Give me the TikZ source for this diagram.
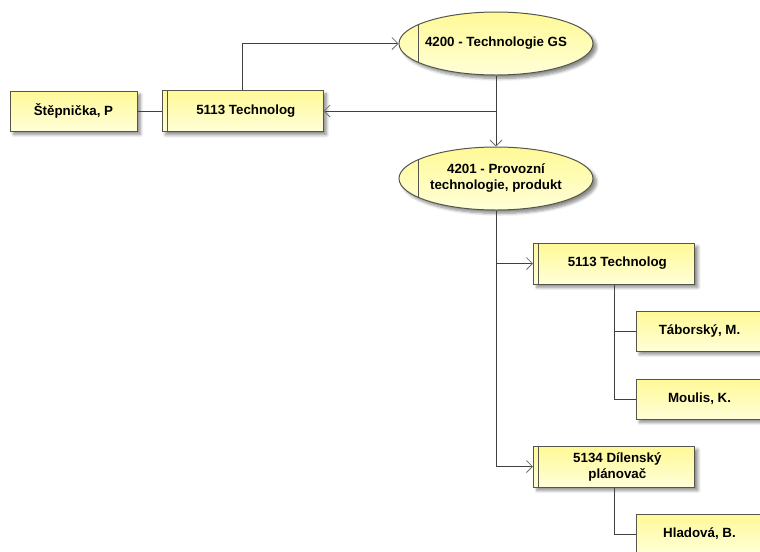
\documentclass[tikz,border=0pt]{standalone}
\usepackage{fontspec}
\setmainfont{Liberation Sans}
\usetikzlibrary{arrows.meta,shapes.geometric,shadows.blur}
\definecolor{boxtop}{HTML}{FFF996}
\definecolor{boxbot}{HTML}{FFFFD8}
\definecolor{boxedge}{HTML}{55554C}
\definecolor{linkc}{HTML}{404040}
\definecolor{tipc}{HTML}{707070}
\begin{document}
\begin{tikzpicture}[x=0.75pt,y=-0.75pt,
  font=\fontsize{10}{12}\selectfont\bfseries,
  unit/.style={draw=boxedge,line width=0.75pt,top color=boxtop,bottom color=boxbot,
    blur shadow={shadow xshift=2.6pt,shadow yshift=-2.6pt,shadow blur steps=6,shadow opacity=45},
    align=center,inner sep=0pt},
  person/.style={unit,rectangle,minimum width=95.25pt,minimum height=30pt},
  post/.style={unit,rectangle,minimum width=120.75pt,minimum height=30.75pt,
    path picture={\draw[boxedge,line width=0.75pt]
      ([xshift=3.75pt]path picture bounding box.north west) --
      ([xshift=3.75pt]path picture bounding box.south west);}},
  dept/.style={unit,ellipse,minimum width=145.5pt,minimum height=47.25pt,
    label={[align=center]center:#1},
    path picture={\draw[boxedge,line width=0.75pt]
      ([xshift=14.25pt]path picture bounding box.north west) --
      ([xshift=14.25pt]path picture bounding box.south west);}},
  link/.style={draw=linkc,line width=0.75pt},
  tolink/.style={link,-{Straight Barb[length=4.5pt,width=9pt,line width=0.6pt,color=tipc]}}]
\useasboundingbox (0,0) rectangle (760,551);

% departments (text set as a centred label so the ellipse keeps its size)
\node[dept={4200 - Technologie GS}] (e1) at (496,43.5) {};
\node[dept={4201 - Provozní\\technologie, produkt}] (e2) at (496,178.5) {};

% positions
\node[post] (t1) at (242.5,111) {\hspace*{5pt}5113 Technolog};
\node[post] (t2) at (614,263.5) {\hspace*{5pt}5113 Technolog};
\node[post] (pl) at (614,466.5) {\hspace*{5pt}5134 Dílenský\\\hspace*{5pt}plánovač};

% people
\node[person] (stp) at (73.5,111) {Štěpnička, P};
\node[person] (tab) at (699.5,331) {Táborský, M.};
\node[person] (mou) at (699.5,399) {Moulis, K.};
\node[person] (hla) at (699.5,534) {Hladová, B.};

% connectors
\draw[link] (stp.east) -- (t1.west);
\draw[tolink] (t1.north) |- (e1.west);
\draw[tolink] (e1.south) -- (e2.north);
\draw[tolink] (e1.south |- t1.east) -- (t1.east);
\draw[tolink] (e2.south) |- (t2.west);
\draw[tolink] (e2.south) |- (pl.west);
\draw[link] (t2.south) |- (tab.west);
\draw[link] (t2.south) |- (mou.west);
\draw[link] (pl.south) |- (hla.west);
\end{tikzpicture}
\end{document}
